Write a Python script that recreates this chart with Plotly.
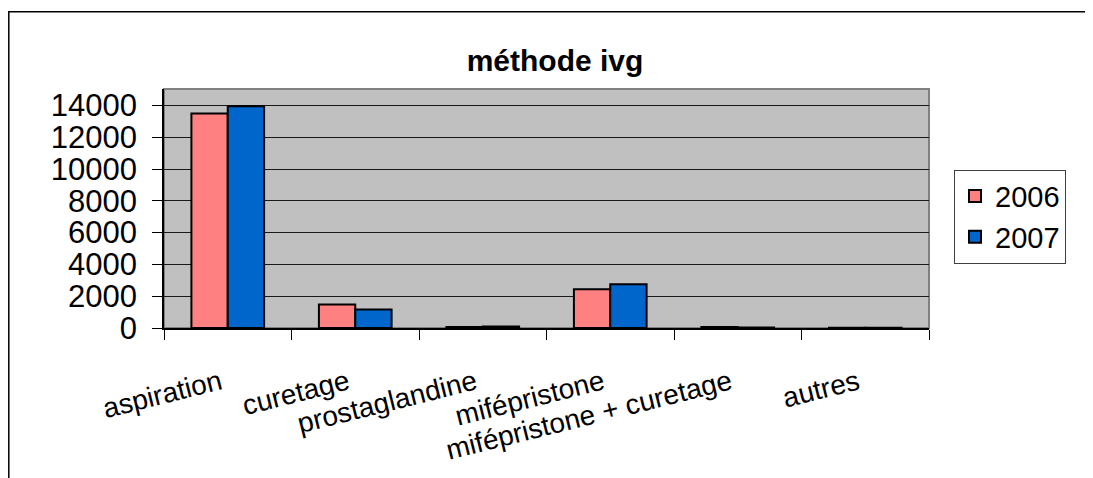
import plotly.graph_objects as go

categories = ["aspiration", "curetage", "prostaglandine", "mifépristone",
              "mifépristone + curetage", "autres"]
values_2006 = [13500, 1480, 60, 2440, 60, 20]
values_2007 = [13950, 1160, 100, 2750, 30, 15]
series_names = ["2006", "2007"]
title_text = "méthode ivg"
y_tick_values = [0, 2000, 4000, 6000, 8000, 10000, 12000, 14000]

# page body has an 8px margin; work in page pixel coordinates
OFF = 8
W, H = 1093 - OFF, 478 - OFF
ML, MR, MT, MB = 164 - OFF, 164, 89 - OFF, 146
PW, PH = W - ML - MR, H - MT - MB

def px_to_paper_x(px):
    return (px - OFF - ML) / PW

def px_to_paper_y(py):
    return (H - MB - (py - OFF)) / PH

FONT = "Liberation Sans, Arial, sans-serif"

fig = go.Figure()
fig.add_trace(go.Bar(
    x=categories, y=values_2006, name=series_names[0],
    marker=dict(color="#FF8080", line=dict(color="black", width=2)),
))
fig.add_trace(go.Bar(
    x=categories, y=values_2007, name=series_names[1],
    marker=dict(color="#0066CC", line=dict(color="black", width=2)),
))

shapes = [
    dict(type="rect", xref="paper", yref="paper",
         x0=px_to_paper_x(8.8), x1=px_to_paper_x(1089.5),
         y0=px_to_paper_y(10.5), y1=px_to_paper_y(495),
         line=dict(color="black", width=1.5), layer="below"),
    dict(type="rect", xref="paper", yref="paper", x0=0, x1=1, y0=0, y1=1,
         line=dict(color="#808080", width=2), layer="below"),
]

fig.update_layout(
    width=W, height=H,
    margin=dict(l=ML, r=MR, t=MT, b=MB, pad=0),
    paper_bgcolor="white",
    plot_bgcolor="#C0C0C0",
    barmode="group",
    bargap=0.43,
    bargroupgap=0,
    font=dict(family=FONT, color="black"),
    title=dict(text="<b>" + title_text + "</b>",
               x=(555 - OFF) / W, xanchor="center", xref="container",
               y=1 - (60 - OFF) / H, yanchor="middle", yref="container",
               font=dict(size=30, family=FONT, color="black")),
    showlegend=True,
    legend=dict(
        x=px_to_paper_x(954), y=px_to_paper_y(171), xanchor="left", yanchor="top",
        bordercolor="#404040", borderwidth=1, bgcolor="white",
        font=dict(size=29, family=FONT, color="black"),
    ),
    shapes=shapes,
    xaxis=dict(
        showline=True, linecolor="black", linewidth=1.5,
        ticks="outside", ticklen=10, tickcolor="black", tickwidth=1,
        tickson="boundaries", tickangle=-14,
        tickmode="array", tickvals=categories,
        ticktext=[c + "\u00a0" for c in categories],
        tickfont=dict(size=28, family=FONT, color="black"),
        showgrid=False, zeroline=False, ticklabelstandoff=24,
    ),
    yaxis=dict(
        range=[0, 15035], tickvals=y_tick_values, tickformat="d",
        showline=True, linecolor="black", linewidth=1.5,
        ticks="outside", ticklen=10, tickcolor="black", tickwidth=1,
        tickfont=dict(size=31, family=FONT, color="black"),
        showgrid=True, gridcolor="#1a1a1a", gridwidth=1,
        zeroline=False, ticklabelstandoff=9,
    ),
)

fig.write_html("out.html")
